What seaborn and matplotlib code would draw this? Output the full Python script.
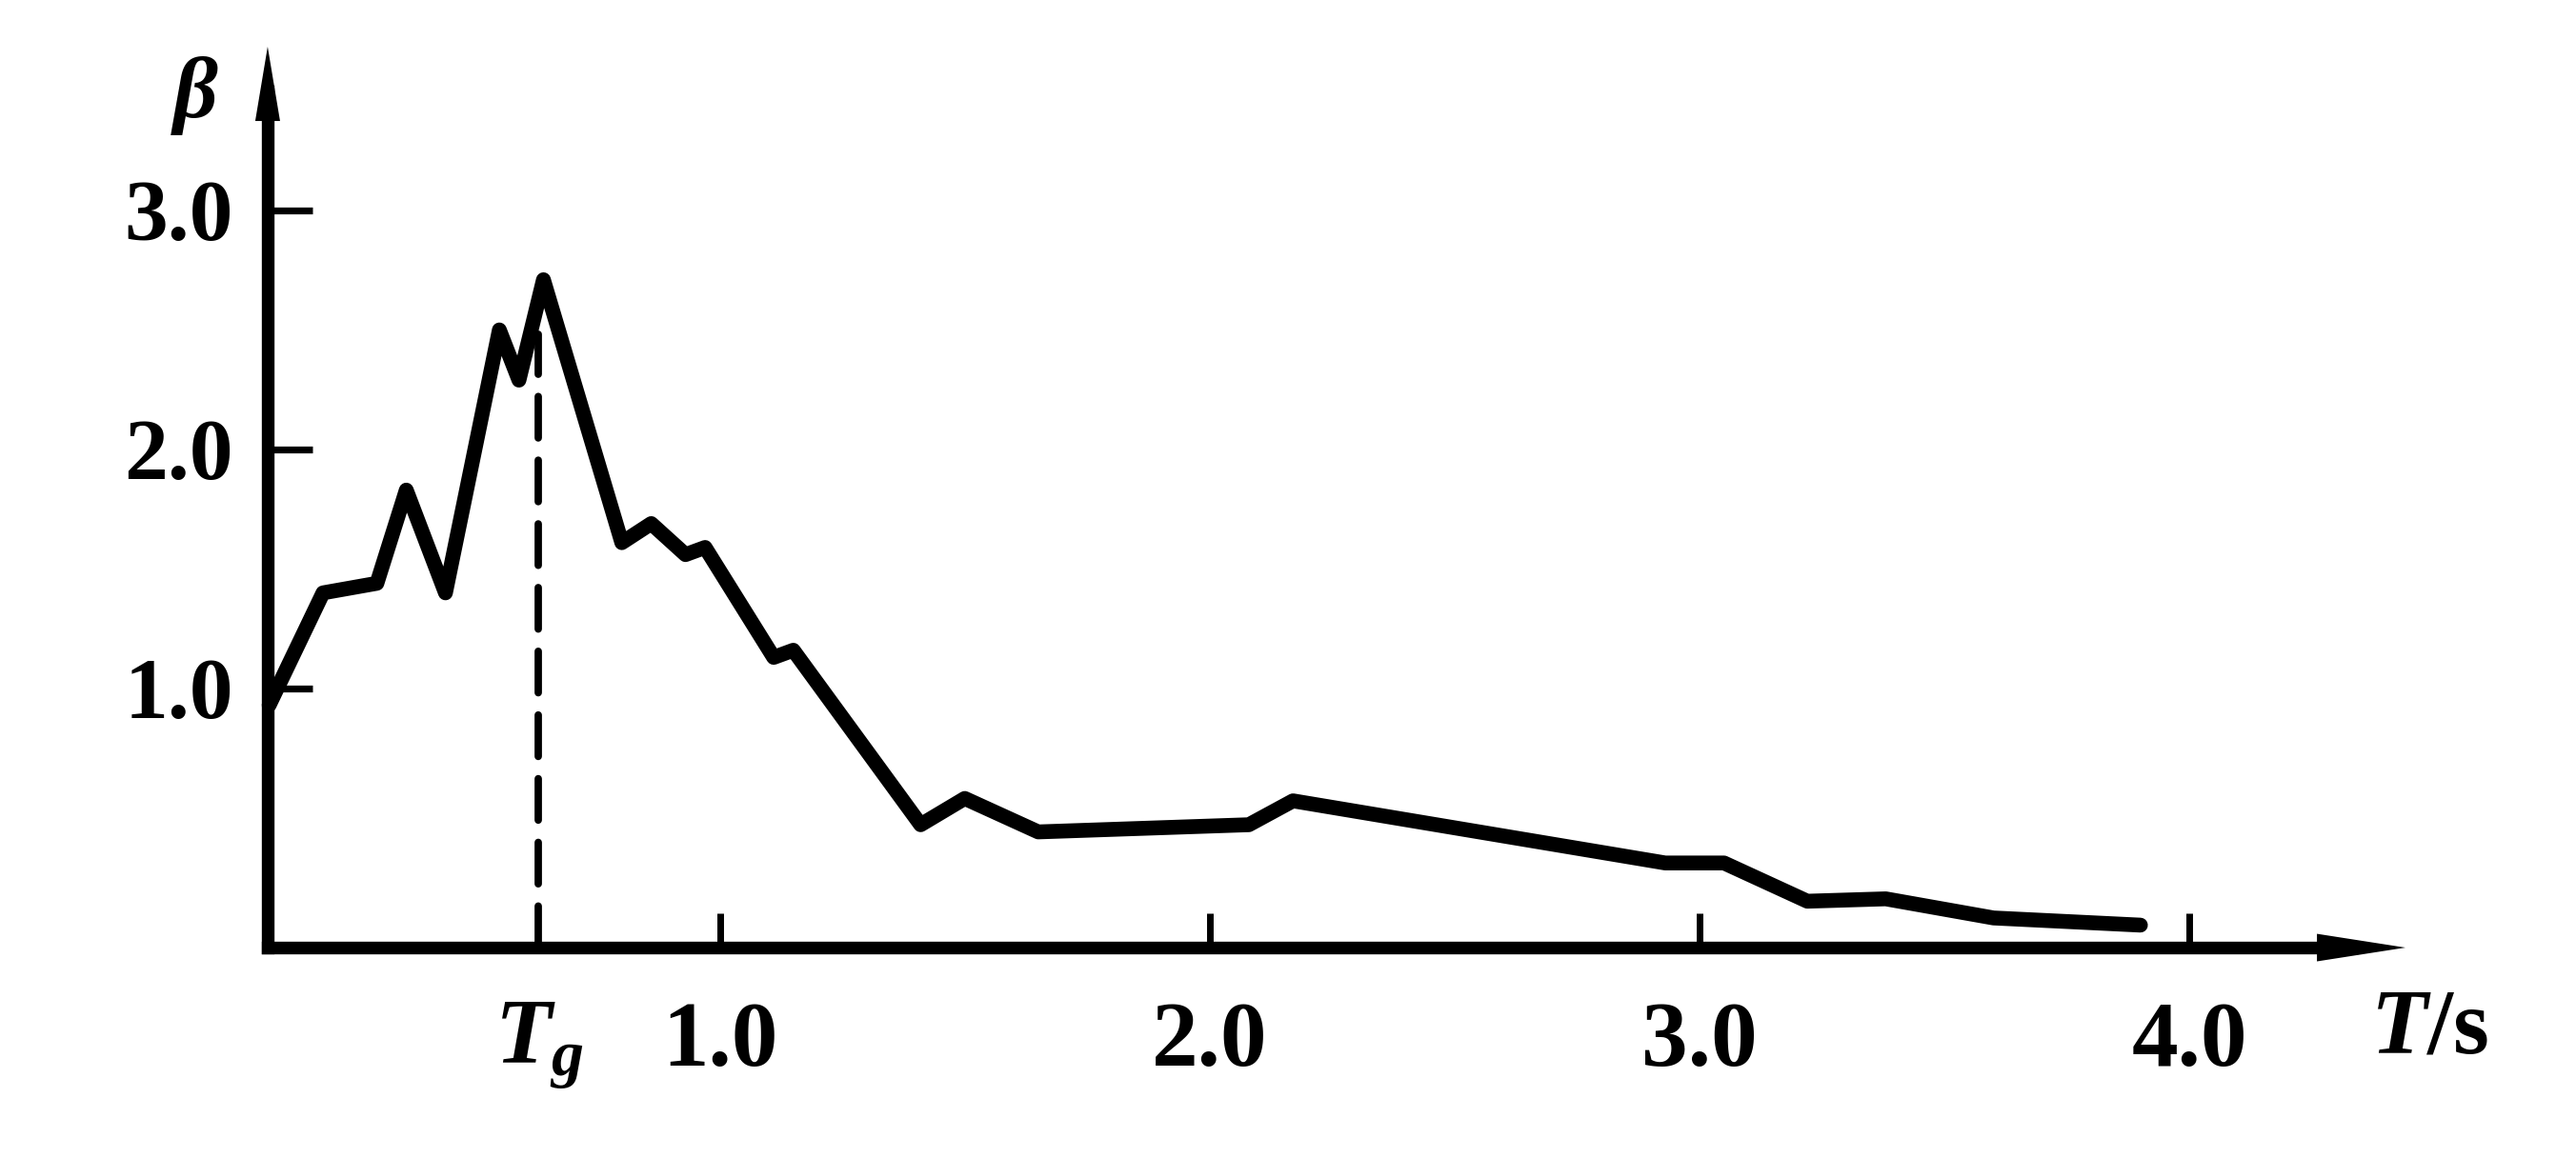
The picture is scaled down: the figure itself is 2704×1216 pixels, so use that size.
#!/usr/bin/env python3
"""
Dynamic amplification spectrum beta(T) with site period Tg
"""

import numpy as np
import pandas as pd
import matplotlib
matplotlib.use("Agg")
import matplotlib.pyplot as plt
from matplotlib.patches import Polygon
import seaborn as sns

# values
period = [0.08, 0.19, 0.30, 0.36, 0.44, 0.55, 0.59, 0.64, 0.80, 0.86, 0.93, 0.97,
          1.11, 1.15, 1.41, 1.50, 1.65, 2.08, 2.17, 2.93, 3.05, 3.22, 3.38, 3.60, 3.90]
beta = [0.93, 1.40, 1.44, 1.83, 1.40, 2.50, 2.29, 2.71, 1.61, 1.69, 1.56, 1.59,
        1.13, 1.16, 0.43, 0.54, 0.40, 0.43, 0.53, 0.27, 0.27, 0.11, 0.12, 0.04, 0.01]
tg = 0.63
tg_dash_top = 2.48
x_ticks = [1.0, 2.0, 3.0, 4.0]
x_tick_labels = ["1.0", "2.0", "3.0", "4.0"]
y_ticks = [1.0, 2.0, 3.0]
y_tick_labels = ["1.0", "2.0", "3.0"]

sns.set_theme(style="white")
plt.rcParams["font.family"] = ["Liberation Serif", "DejaVu Serif"]
plt.rcParams["font.weight"] = "bold"
plt.rcParams["mathtext.fontset"] = "custom"
plt.rcParams["mathtext.it"] = "Liberation Serif:italic:bold"
plt.rcParams["mathtext.rm"] = "Liberation Serif:bold"
for key in ["text.color", "axes.labelcolor", "xtick.color", "ytick.color"]:
    plt.rcParams[key] = "black"

df = pd.DataFrame({"T": period, "beta": beta})

fig = plt.figure(figsize=(13.52, 6.08), dpi=200)
ax = fig.add_axes([0.1039, 0.1817, 0.8299, 0.778])

x_lo, x_hi = 0.077, 4.441
y_lo, y_hi = -0.084, 3.685
ax.set_xlim(x_lo, x_hi)
ax.set_ylim(y_lo, y_hi)

sns.lineplot(data=df, x="T", y="beta", color="black", linewidth=5.6,
             estimator=None, sort=False, ax=ax, clip_on=False)

# Tg marker line
ax.plot([tg, tg], [y_lo, tg_dash_top], color="black", linewidth=2.8,
        linestyle=(0, (5.6, 3.0)), dash_capstyle="round")

# L-shaped axes ending in arrow heads
head_x_len, head_x_half = 0.0414, 0.0153   # axes fraction
head_y_len, head_y_half = 0.0825, 0.0058
for side in ["top", "right"]:
    ax.spines[side].set_visible(False)
for side in ["left", "bottom"]:
    ax.spines[side].set_linewidth(4.8)
    ax.spines[side].set_color("black")
    ax.spines[side].set_capstyle("projecting")
ax.spines["bottom"].set_bounds(x_lo, x_hi - 0.6 * head_x_len * (x_hi - x_lo))
ax.spines["left"].set_bounds(y_lo, y_hi - 0.6 * head_y_len * (y_hi - y_lo))

ax.add_patch(Polygon([(1, 0), (1 - head_x_len, head_x_half), (1 - head_x_len, -head_x_half)],
                     closed=True, transform=ax.transAxes, color="black",
                     lw=0, clip_on=False))
ax.add_patch(Polygon([(0, 1), (-head_y_half, 1 - head_y_len), (head_y_half, 1 - head_y_len)],
                     closed=True, transform=ax.transAxes, color="black",
                     lw=0, clip_on=False))

ax.set_xticks(x_ticks, labels=x_tick_labels)
ax.set_xticks([tg], labels=[r"$T_g$"], minor=True)
ax.set_yticks(y_ticks, labels=y_tick_labels)
ax.tick_params(axis="x", which="major", direction="in", length=13, width=2.5,
               pad=20, labelsize=35)
ax.tick_params(axis="x", which="minor", length=0, pad=20, labelsize=35)
ax.tick_params(axis="y", direction="in", length=17, width=2.6,
               pad=13, labelsize=33)
ax.tick_params(left=True, bottom=True)

ax.set_xlabel("")
ax.set_ylabel("")

fig.text(0.0758, 0.917, "β", fontsize=33, fontstyle="italic",
         fontweight="bold", ha="center", va="center")
fig.text(0.943, 0.110, r"$T$/s", fontsize=35, fontweight="bold",
         ha="center", va="center")

fig.savefig("out.png", dpi=200, facecolor="white")
plt.close(fig)
